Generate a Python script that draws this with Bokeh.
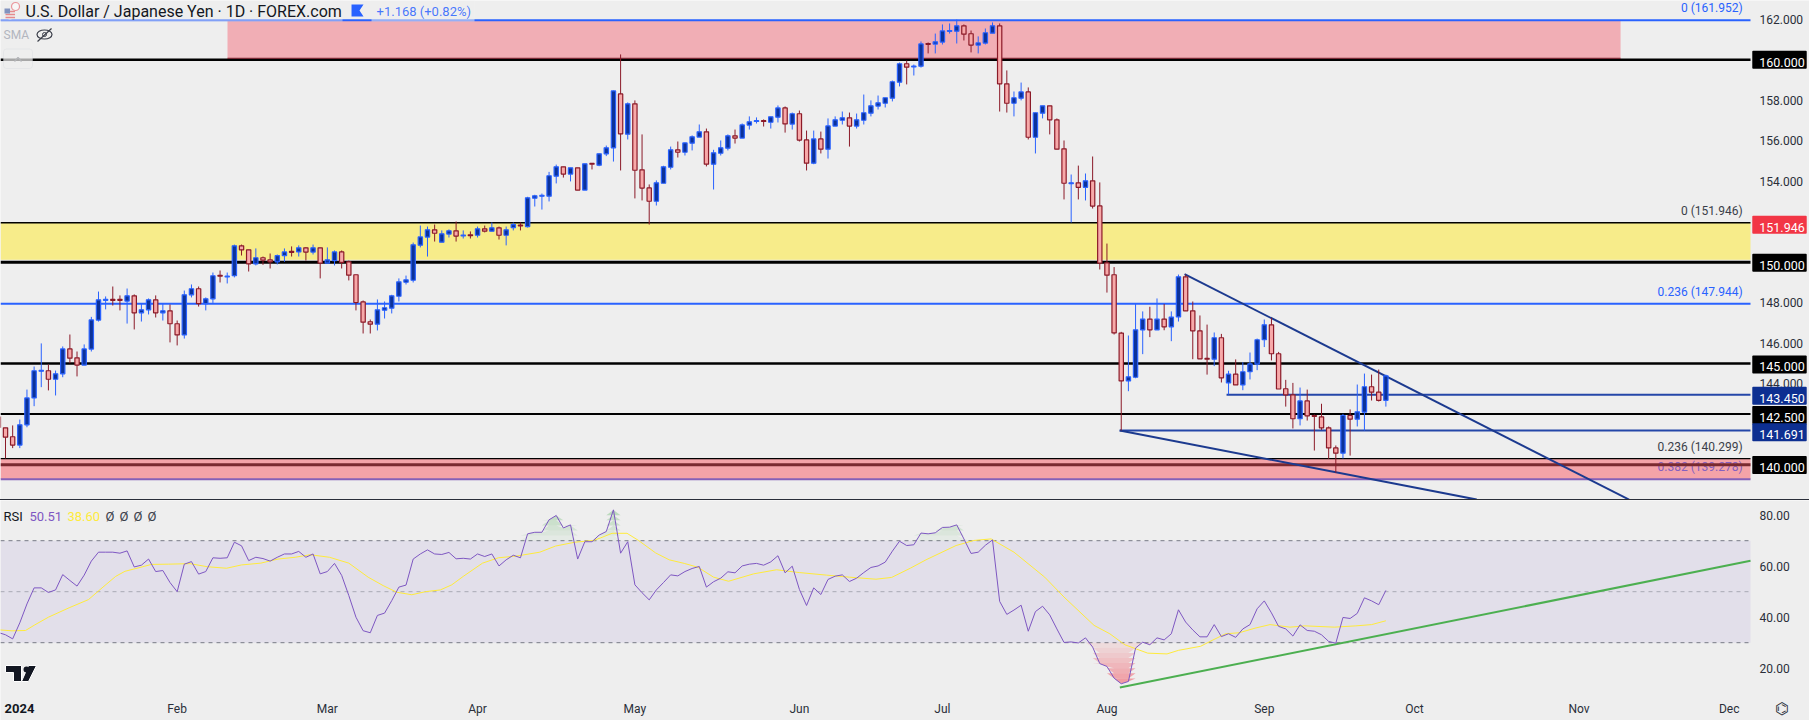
from bokeh.plotting import figure
from bokeh.layouts import column
from bokeh.models import Range1d, FixedTicker, Label, BoxAnnotation, Div, NumeralTickFormatter, LinearAxis
from bokeh.core.properties import value
from bokeh.embed import file_html
from bokeh.resources import INLINE

FONT = "Roboto"
BG = "#eeeeee"

first_bar = -3
opens = [142.38,141.82,141.38,140.97,141.97,143.30,144.62,144.64,144.22,144.49,
145.72,145.28,144.92,145.71,147.14,148.12,148.16,148.16,148.08,148.34,
147.50,147.65,148.14,147.50,147.60,146.96,146.41,148.39,148.69,147.95,
148.19,149.35,149.27,149.33,150.81,150.61,149.92,150.22,150.12,150.02,
150.32,150.53,150.51,150.71,150.50,150.71,149.95,150.08,150.51,150.02,
149.38,148.04,147.06,146.94,147.63,147.73,148.32,149.01,149.11,150.84,
151.24,151.60,150.99,151.39,151.55,151.30,151.35,151.33,151.65,151.53,
151.70,151.33,151.71,151.83,151.76,153.16,153.26,153.26,154.25,154.71,
154.35,154.66,153.56,154.88,154.79,155.35,155.65,158.31,156.32,157.82,
154.56,153.67,153.01,153.90,154.69,155.55,155.43,155.88,156.18,156.44,
154.84,155.38,155.63,156.24,156.13,156.77,156.95,156.99,156.91,157.16,
157.62,156.82,157.33,156.04,154.89,156.09,155.58,156.72,157.01,157.13,
156.72,157.01,157.36,157.71,157.85,158.10,158.89,159.80,159.64,159.68,
160.80,160.77,160.87,161.40,161.41,161.67,161.28,160.72,160.82,161.31,
161.67,158.81,157.85,158.10,158.41,156.17,157.36,157.72,157.03,155.60,
153.88,153.92,153.70,154.02,152.78,149.97,149.38,146.50,144.14,144.32,
146.66,147.19,146.66,147.19,146.81,147.30,149.28,147.60,146.61,145.25,
145.21,146.27,144.04,144.47,143.94,144.59,144.97,146.17,146.91,145.48,
143.75,143.45,142.27,143.15,142.43,142.36,141.82,140.83,140.57,142.43,
142.25,142.60,143.85,143.58,143.18]
highs = [142.50,141.82,141.94,142.23,143.71,144.85,145.99,144.95,144.65,145.84,
146.43,145.59,145.94,147.30,148.55,148.31,148.80,148.36,148.70,148.41,
147.95,148.21,148.36,147.95,147.91,147.12,148.60,148.90,148.80,148.26,
149.49,149.59,149.49,150.87,150.87,150.61,150.68,150.28,150.43,150.38,
150.68,150.78,150.83,150.74,150.87,150.71,150.73,150.58,150.58,150.08,
149.38,148.11,147.17,148.16,148.06,148.39,149.20,149.34,150.97,151.81,
151.76,151.86,151.57,151.62,152.01,151.57,151.52,151.76,151.81,151.96,
151.76,151.76,151.96,151.96,153.23,153.33,153.39,154.46,154.82,154.71,
154.66,154.66,154.86,154.88,155.37,155.76,158.48,160.26,157.89,157.99,
156.31,153.84,154.04,154.76,155.71,155.96,155.91,156.26,156.80,156.60,
155.55,156.01,156.31,156.55,156.85,157.20,157.15,157.05,157.18,157.74,
157.69,157.39,157.49,156.50,156.50,156.45,157.10,157.20,157.44,157.39,
157.34,158.28,157.99,158.23,158.12,158.97,159.86,159.96,159.76,160.90,
160.85,161.29,161.74,161.79,161.98,161.74,161.44,161.15,161.54,161.84,
161.79,159.47,158.43,158.87,158.63,157.39,157.72,157.72,157.10,156.01,
154.33,154.77,154.38,155.22,153.94,150.92,149.76,146.56,146.38,147.94,
147.57,147.80,148.21,147.94,147.57,149.39,149.39,148.06,147.37,146.92,
146.53,146.46,144.64,145.20,145.06,145.54,146.23,147.17,147.25,145.57,
144.19,144.04,143.81,143.71,142.48,143.01,141.89,140.95,142.51,142.73,
143.96,144.50,144.45,144.70,144.45]
lows = [141.80,140.31,140.82,140.82,141.85,142.89,143.83,143.67,143.42,144.32,
145.01,144.36,144.92,145.59,147.07,147.67,147.86,147.62,146.97,146.68,
147.07,147.42,147.27,147.12,146.04,145.89,146.23,148.26,147.81,147.62,
147.99,149.00,148.95,149.25,150.33,149.54,149.84,149.87,149.69,149.89,
150.02,150.28,150.28,150.08,150.38,149.20,149.95,149.84,149.69,149.10,
147.62,146.48,146.48,146.63,147.22,147.47,148.06,148.90,149.00,150.73,
150.28,151.02,150.99,151.22,151.02,151.17,151.17,151.22,151.47,151.53,
151.12,150.83,151.57,151.57,151.71,152.75,152.60,153.00,153.89,154.18,
153.99,153.56,153.56,154.58,154.74,155.24,154.97,154.53,156.06,153.15,
153.05,151.86,152.80,153.90,154.58,155.17,155.27,155.52,156.18,154.73,
153.59,155.27,155.52,155.86,156.13,156.55,156.85,156.70,156.60,156.90,
156.40,156.55,155.96,154.53,154.84,155.37,155.12,156.72,156.80,155.71,
156.60,156.80,157.20,157.54,157.64,157.94,158.68,158.78,159.22,159.61,
160.31,160.31,160.75,161.29,160.80,160.95,160.36,160.31,160.75,161.31,
157.44,157.39,157.20,157.99,156.06,155.37,157.10,156.31,155.58,153.10,
151.96,153.10,153.05,152.65,149.64,148.50,146.43,141.69,143.63,144.27,
145.46,146.30,146.66,146.64,146.10,147.07,147.60,145.21,145.23,144.45,
144.87,144.06,143.47,143.94,143.68,144.21,144.67,145.81,145.15,143.74,
142.87,141.79,141.94,142.18,140.70,141.72,140.29,139.60,140.31,140.45,
141.89,141.69,143.17,143.12,142.87]
closes = [141.82,141.36,140.97,141.97,143.30,144.64,144.66,144.22,144.49,145.72,
145.26,144.92,145.72,147.15,148.14,148.16,148.12,148.12,148.34,147.50,
147.65,148.14,147.50,147.60,146.96,146.41,148.39,148.69,147.95,148.19,
149.33,149.31,149.31,150.81,150.61,149.92,150.22,150.10,150.02,150.32,
150.51,150.49,150.71,150.50,150.71,149.95,150.12,150.51,149.99,149.36,
148.01,147.04,146.94,147.65,147.75,148.34,149.03,149.13,150.86,151.25,
151.60,151.43,151.40,151.55,151.29,151.34,151.31,151.65,151.53,151.70,
151.33,151.60,151.86,151.79,153.18,153.28,153.30,154.27,154.71,154.35,
154.66,153.56,154.86,154.84,155.35,155.65,158.46,156.34,157.82,154.54,
153.66,153.01,153.92,154.71,155.55,155.43,155.89,156.19,156.44,154.84,
155.40,155.65,156.24,156.13,156.78,156.93,156.99,156.95,157.18,157.62,
156.83,157.33,156.03,154.89,156.09,155.58,156.73,157.03,157.13,156.72,
157.03,157.38,157.72,157.87,158.12,158.91,159.80,159.63,159.68,160.78,
160.76,160.88,161.42,161.44,161.67,161.26,160.72,160.83,161.33,161.67,
158.81,157.85,158.12,158.41,156.17,157.38,157.72,157.03,155.58,153.90,
153.92,153.70,154.02,152.77,149.95,149.36,146.51,144.14,144.34,146.66,
147.19,146.66,147.19,146.81,147.29,149.28,147.60,146.61,145.23,145.21,
146.27,144.29,144.47,143.94,144.59,144.98,146.17,146.91,145.48,143.74,
143.45,142.27,143.15,142.41,142.39,141.82,140.83,140.57,142.43,142.25,
142.61,143.85,143.58,143.18,144.39]

rsi = [34.0,33.1,31.5,37.8,45.2,51.5,51.5,49.7,50.7,56.7,54.4,52.2,56.5,62.0,65.5,65.5,65.5,65.1,66.0,59.7,
60.4,62.8,57.9,58.3,53.6,50.0,60.8,61.8,56.9,57.9,63.3,63.1,63.3,69.4,68.0,62.2,63.5,63.0,62.0,63.5,
64.8,64.8,65.8,63.5,64.8,57.0,57.9,61.1,56.4,48.5,40.0,34.7,33.9,40.7,41.6,46.5,51.8,52.6,62.8,64.8,
66.4,64.8,64.6,65.4,62.9,63.1,62.8,64.8,63.8,64.8,60.1,62.5,64.3,63.3,72.7,73.3,73.3,78.2,79.9,75.0,
76.2,62.8,69.6,69.6,72.2,
73.6,82.1,65.1,69.6,52.7,49.6,46.8,50.7,53.6,56.6,56.2,57.9,59.1,59.9,51.8,53.9,55.3,57.8,57.4,60.1,
60.8,61.1,60.4,61.7,64.1,57.4,60.0,50.9,44.6,51.5,48.9,54.8,56.1,56.6,54.0,55.3,57.5,59.5,60.1,61.6,
65.9,69.8,68.1,68.4,73.0,72.7,73.1,75.2,75.3,76.2,70.7,65.0,65.5,68.2,70.3,46.2,41.1,42.8,44.7,34.5,
42.2,44.3,40.9,35.4,30.1,30.3,29.9,31.9,28.3,21.8,20.7,16.1,13.9,14.8,27.9,30.2,29.2,31.9,31.1,33.5,
42.9,38.1,35.0,32.3,
32.3,37.1,32.4,33.5,32.1,35.4,37.1,43.3,46.4,41.7,36.4,35.4,32.6,37.0,34.8,34.5,33.1,30.5,29.8,39.9,
39.5,41.5,47.6,46.4,44.9,50.51]

signal_bars = [-3,-1.1,0.8,2.1,4,6.9,9.6,11.5,13.4,14.7,16.8,18.4,20.8,23.8,26.2,28.9,31,33.7,36.1,38.5,40.6,43.3,46,48.7,50.8,52.7,54.8,56.7,58.8,60.4,62,64.7,66.9,69.5,72.7,74.9,77.6,80.2,
81.2,82.8,84.9,86.5,88.9,90.8,92.9,94.8,97,99.1,102.6,105.8,109,112.8,116,119.7,121.9,124.5,126.7,130.9,133.4,135.8,139,143.3,146,150.2,152.4,154.5,157.7,160.4,162,165.1,
166.7,168.6,170.5,172.7,174.8,177.6,179.7,183.8,186.8,189,191]
signal_vals = [35.05,34.66,34.79,37.0,40.0,43.7,46.9,51.5,56.0,58.0,59.5,60.7,60.8,61.0,59.8,59.2,60.5,61.2,62.8,63.5,64.5,63.5,61.2,55.7,52.4,49.8,48.8,50.0,50.7,52.7,56.0,61.2,63.3,64.0,65.5,67.9,69.4,70.1,
71.1,72.9,72.9,70.1,65.2,62.5,61.1,59.6,55.7,54.1,57.0,58.6,57.5,56.5,55.7,54.9,55.6,59.2,62.5,68.1,70.1,70.7,65.5,55.7,47.9,36.8,33.5,29.2,25.9,25.6,27.0,28.6,
30.9,33.5,33.9,35.7,37.1,36.1,36.6,36.1,36.6,37.1,38.6]

month_bars = [22,43,64,86,109,129,152,174,195,218,239]
month_names = ["Feb","Mar","Apr","May","Jun","Jul","Aug","Sep","Oct","Nov","Dec"]
price_ticks = [140,142,144,146,148,150,152,154,156,158,160,162]
rsi_ticks = [20,40,60,80]

black_levels = [160.0,150.0,145.0,142.5]
black_widths = [2.5,3,2.5,2]
fib_levels = [161.952,147.944]
zone_top = [161.952,151.946,140.299]
zone_bottom = [160.04,150.12,139.278]
box_labels = ["160.000","151.946","150.000","145.000","143.450","142.500","141.691","140.000"]
box_prices = [160.0,151.85,149.97,144.95,143.40,142.46,141.60,139.98]
box_colors = ["#000000","#f23645","#000000","#000000","#0d2f91","#000000","#0d2f91","#000000"]

upper_x = [162.85,225.0]; upper_y = [149.41,138.28]
lower_x = [153.8,203.7]; lower_y = [141.69,138.28]
green_x = [153.8,241.98]; green_y = [12.4,62.1]

X0, X1 = -2.70, 241.98
XEND = X1 + 59/7.152
def px2i(x): return (x-19.3)/7.152
def py2v(y): return 162.923-0.04938*y
def py2r(y): return 80-(y-514.7)/2.55

bars = list(range(first_bar, first_bar+len(opens)))
assert len(opens)==len(highs)==len(lows)==len(closes)==len(rsi), (len(opens),len(highs),len(lows),len(closes),len(rsi))

def style_axis(a, standoff):
    a.axis_line_color = None
    a.major_tick_line_color = None
    a.minor_tick_line_color = None
    a.major_tick_out = 0
    a.major_tick_in = 0
    a.minor_tick_out = 0
    a.minor_tick_in = 0
    a.major_label_standoff = standoff
    a.major_label_text_font = FONT
    a.major_label_text_font_size = "12px"
    a.major_label_text_color = "#2a2e39"

xr = Range1d(X0, XEND)
p = figure(width=1809, height=499, x_range=xr, y_range=Range1d(py2v(499), py2v(0)),
           output_backend="svg", toolbar_location=None, x_axis_location=None, y_axis_location=None,
           background_fill_color=BG, border_fill_color=BG, margin=(0,0,0,0),
           min_border_left=0, min_border_right=0, min_border_top=0, min_border_bottom=0)
p.outline_line_color = None
p.grid.visible = False
ax = LinearAxis(fixed_location=X1)
ax.ticker = FixedTicker(ticks=price_ticks)
ax.formatter = NumeralTickFormatter(format="0.000")
style_axis(ax, 9)
p.add_layout(ax, "right")

# zones
zone_left = [X0,X0,X0]
zone_right = [px2i(1620),X1,X1]
zone_left[0] = px2i(227)
p.quad(left=zone_left[0:1], right=zone_right[0:1], top=zone_top[0:1], bottom=zone_bottom[0:1], fill_color="#f1aeb5", line_color=None)
p.quad(left=zone_left[1:2], right=zone_right[1:2], top=zone_top[1:2], bottom=zone_bottom[1:2], fill_color="#f7ec8a", line_color=None)
p.quad(left=zone_left[2:3], right=zone_right[2:3], top=zone_top[2:3], bottom=zone_bottom[2:3], fill_color="#f4a3a8", line_color=None)

# fib texts
fib_txt = ["0 (161.952)","0 (151.946)","0.236 (147.944)","0.236 (140.299)","0.382 (139.278)"]
fib_txt_y = [161.952,151.946,147.944,140.299,139.278]
fib_txt_c = ["#2962ff","#3a3e49","#2962ff","#3a3e49","#8560c0"]
p.text(x=[px2i(1742)]*5, y=fib_txt_y, text=fib_txt, text_color=fib_txt_c, text_align="right",
       text_baseline="bottom", y_offset=-5, text_font=value(FONT), text_font_size="12px")

# lines
for lv, w in zip(black_levels, black_widths):
    p.line([X0,X1],[lv,lv], line_color="#000000", line_width=w)
p.line([px2i(227),px2i(1620)],[160.07,160.07], line_color="#7a1f2b", line_width=1)
p.line([X0,X1],[151.946,151.946], line_color="#000000", line_width=1.4)
p.line([X0,X1],[140.299,140.299], line_color="#000000", line_width=1.4)
p.line([X0,X1],[140.0,140.0], line_color="#7a2a30", line_width=3)
p.line([X0,X1],[139.278,139.278], line_color="#8560b8", line_width=2)
for lv in fib_levels:
    p.line([X0,X1],[lv,lv], line_color="#2962ff", line_width=2)
p.line([px2i(1226),X1],[143.45,143.45], line_color="#2446a8", line_width=2)
p.line([px2i(1119),X1],[141.691,141.691], line_color="#2446a8", line_width=2)
p.line(upper_x, upper_y, line_color="#1c3a8f", line_width=2)
p.line(lower_x, lower_y, line_color="#1c3a8f", line_width=2)

# candles
up = [c >= o for o, c in zip(opens, closes)]
def pick(arr, flag): return [a for a, u in zip(arr, up) if u == flag]
for flag, wick, fill in ((True, "#2962ff", "#0c3299"), (False, "#8b1a28", "#f7a9a9")):
    bx = pick(bars, flag); op = pick(opens, flag); hi = pick(highs, flag); lo = pick(lows, flag); cl = pick(closes, flag)
    p.segment(bx, hi, bx, lo, line_color=wick, line_width=1)
    tops = [max(a, b) for a, b in zip(op, cl)]
    bots = [min(a, b) for a, b in zip(op, cl)]
    p.vbar(x=bx, top=tops, bottom=bots, width=0.6, fill_color=fill, line_color=wick, line_width=1.2)

# header
p.add_layout(BoxAnnotation(left=px2i(0), right=px2i(342), top=py2v(0), bottom=py2v(21), fill_color=BG, fill_alpha=0.45, line_color=None))
p.add_layout(BoxAnnotation(left=px2i(371), right=px2i(474), top=py2v(0), bottom=py2v(21), fill_color=BG, fill_alpha=0.55, line_color=None))
def lab(x, y, t, color="#131722", size="13px", align="left", **kw):
    p.add_layout(Label(x=px2i(x), y=py2v(y), text=t, text_color=color, text_font=FONT, text_font_size=size,
                       text_align=align, text_baseline="middle", **kw))
lab(25, 11, "U.S. Dollar / Japanese Yen · 1D · FOREX.com", size="16px")
lab(376, 11, "+1.168 (+0.82%)", color="#2962ff", size="13px", text_alpha=0.85)
lab(3, 34, "SMA", color="#b2b5be", size="12px")
# small icons
p.patch([px2i(a) for a in (351,363,359,363,351)], [py2v(b) for b in (4,4,10,16,16)], fill_color="#2962ff", line_color=None)
p.scatter([px2i(9.5)],[py2v(13)], size=12, fill_color="#f0f0f0", line_color=None)
for yy in (11,14,17):
    p.line([px2i(5),px2i(14.5)],[py2v(yy),py2v(yy)], line_color="#e03a3e", line_width=1.6)
p.quad(left=[px2i(4)], right=[px2i(9.5)], top=[py2v(8)], bottom=[py2v(13)], fill_color="#2a4a9a", line_color=None)
p.scatter([px2i(15)],[py2v(6)], size=8, fill_color="#ffffff", line_color="#e8505a", line_width=1.2)
p.ellipse([px2i(44)],[py2v(34)], width=15/7.152, height=9*0.04938, fill_color=None, line_color="#3a3e49", line_width=1.2)
p.scatter([px2i(44)],[py2v(34)], size=4, fill_color=None, line_color="#3a3e49", line_width=1)
p.line([px2i(37),px2i(51)],[py2v(41),py2v(28)], line_color="#3a3e49", line_width=1.2)
p.add_layout(BoxAnnotation(left=px2i(3), right=px2i(32), top=py2v(48.5), bottom=py2v(68), fill_color=BG, fill_alpha=0.7,
                           line_color="#d1d4dc", line_width=1, border_radius=3))
p.line([px2i(14),px2i(17.5),px2i(21)],[py2v(61),py2v(57),py2v(61)], line_color="#2a2e39", line_width=1.3)

for t, v, c in zip(box_labels, box_prices, box_colors):
    p.add_layout(Label(x=1779, x_units="canvas", y=v, text=t, text_color="#ffffff", text_font=FONT,
                       text_font_size="12.5px", text_font_style="normal", text_align="center", text_baseline="middle",
                       background_fill_color=c, padding=(7,2,7,2), border_radius=1, level="overlay"))

sep = Div(width=1809, height=1, margin=(0,0,0,0), styles={"background":"#2a2e39"})

# RSI pane
q = figure(width=1809, height=220, x_range=xr, y_range=Range1d(py2r(720), py2r(500)),
           output_backend="svg", toolbar_location=None, x_axis_location=None, y_axis_location=None,
           background_fill_color=BG, border_fill_color=BG, margin=(0,0,0,0),
           min_border_left=0, min_border_right=0, min_border_top=0, min_border_bottom=0)
q.outline_line_color = None
q.grid.visible = False
qa = LinearAxis(fixed_location=X1)
qa.ticker = FixedTicker(ticks=rsi_ticks)
qa.formatter = NumeralTickFormatter(format="0.00")
style_axis(qa, 9)
q.add_layout(qa, "right")
xa = LinearAxis(fixed_location=py2r(697))
xa.ticker = FixedTicker(ticks=month_bars)
xa.major_label_overrides = {b: n for b, n in zip(month_bars, month_names)}
style_axis(xa, 4)
q.add_layout(xa, "below")

q.quad(left=[X0], right=[X1], top=[70], bottom=[30], fill_color="#e2dfea", line_color=None)
q.line([X0,X1],[70,70], line_color="#787b86", line_dash="4 4", line_width=1)
q.line([X0,X1],[50,50], line_color="#787b86", line_alpha=0.55, line_dash="4 4", line_width=1)
q.line([X0,X1],[30,30], line_color="#787b86", line_dash="4 4", line_width=1)

# overbought / oversold gradient built as stacked bands
for k in range(8):
    hi = 30 - 2*k; lo = hi - 2
    q.varea(x=bars, y1=[hi]*len(rsi), y2=[min(max(r, lo), hi) for r in rsi], fill_color="#f23645", fill_alpha=0.10+0.05*k)
for k in range(6):
    lo = 70 + 2*k; hi = lo + 2
    q.varea(x=bars, y1=[lo]*len(rsi), y2=[min(max(r, lo), hi) for r in rsi], fill_color="#4caf50", fill_alpha=0.06+0.05*k)

q.line(green_x, green_y, line_color="#4caf50", line_width=2)
q.line(signal_bars, signal_vals, line_color="#ffeb3b", line_width=1)
q.line(bars, rsi, line_color="#7e57c2", line_width=1)

def rlab(x, y, t, color="#131722", size="13px", style="normal", align="left", xu="data"):
    q.add_layout(Label(x=(x if xu=="canvas" else px2i(x)), x_units=xu, y=py2r(y), text=t, text_color=color, text_font=FONT,
                       text_font_size=size, text_font_style=style, text_align=align, text_baseline="middle"))
rlab(3, 516, "RSI")
rlab(29, 516, "50.51", color="#7e57c2")
rlab(67, 516, "38.60", color="#ffeb3b")
for xx in (105,119,133,147):
    rlab(xx, 516, "Ø", color="#3a3e49")
rlab(19, 708, "2024", style="bold", align="center")
rlab(1781, 708, "⌬", size="16px", color="#2a2e39", align="center", xu="canvas")

# logo
ox = [5,21,21,13,13,5]; oy = [665,665,681,681,672,672]
q.patch([px2i(a) for a in ox], [py2r(b) for b in oy], fill_color="#131722", line_color="#ffffff", line_width=1)
q.patch([px2i(a) for a in (28,36,28,21)], [py2r(b) for b in (665,665,681,681)], fill_color="#131722", line_color="#ffffff", line_width=1)
q.scatter([px2i(26)],[py2r(669)], size=6, fill_color="#131722", line_color=None)

page = column(p, sep, q, spacing=0, margin=(0,-8,-8,0))
open("out.html", "w").write(file_html(page, INLINE))
